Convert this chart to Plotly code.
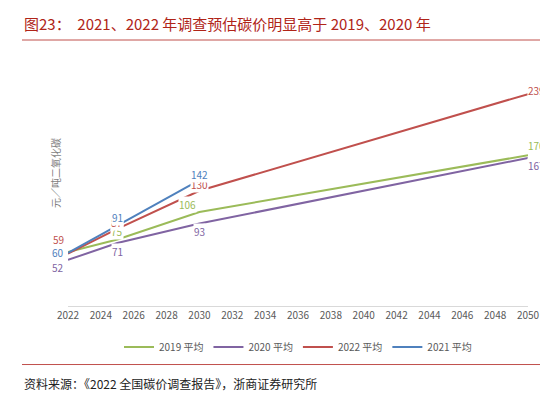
import plotly.graph_objects as go

years = [2022, 2025, 2030, 2050]
series_names = ["2019 平均", "2020 平均", "2022 平均", "2021 平均"]
v2019 = [61, 75, 106, 170]
v2020 = [52, 71, 93, 167]
v2022 = [59, 87, 130, 239]
v2021 = [60, 91, 142]
colors = ["#9bbb59", "#8064a2", "#c0504d", "#4f81bd"]
x_ticks = list(range(2022, 2051, 2))

fig = go.Figure()
all_vals = [v2019, v2020, v2022, v2021]
for name, vals, c in zip(series_names, all_vals, colors):
    fig.add_trace(go.Scatter(x=years[:len(vals)], y=vals, name=name, mode="lines",
                             line=dict(color=c, width=2)))

# label offsets (x shift px, y shift px) per point
offsets = {
    0: [(-10, 6), (0, 8), (-12, 8), (0, 10)],
    1: [(-10, -8), (0, -8), (0, -8), (0, -8)],
    2: [(-10, 14), (0, 6), (0, 6), (0, 4)],
    3: [(-10, 0), (0, 8), (0, 6), (0, 12)],
}
for si, (vals, c) in enumerate(zip(all_vals, colors)):
    for pi, v in enumerate(vals):
        dx, dy = offsets[si][pi]
        if pi == 3:
            dx = 8
        fig.add_annotation(x=years[pi], y=v, text=str(v), showarrow=False,
                           xshift=dx, yshift=dy, bgcolor="white", borderpad=0,
                           font=dict(color=c, size=10, family="Noto Sans CJK SC"))

fig.update_layout(
    width=548, height=402, paper_bgcolor="white", plot_bgcolor="white",
    margin=dict(l=60, r=28, t=32, b=104),
    font=dict(family="Noto Sans CJK SC", color="#595959", size=10),
    showlegend=True,
    legend=dict(orientation="h", x=0.5, xanchor="center", y=-0.1, yanchor="top",
                font=dict(size=10), itemwidth=30),
    xaxis=dict(range=[2022, 2050], tickvals=x_ticks, showgrid=False,
               showline=True, linecolor="#d9d9d9", ticks="", tickfont=dict(size=10)),
    yaxis=dict(range=[0, 300], showticklabels=False, showgrid=False, zeroline=False,
               title=dict(text="元／吨二氧化碳", font=dict(size=10, color="#7f7f7f"), standoff=4)),
)
fig.add_annotation(xref="paper", yref="paper", x=-0.1, y=1.0, yshift=4, xanchor="left",
                   yanchor="bottom", showarrow=False,
                   text="图23：  2021、2022 年调查预估碳价明显高于 2019、2020 年",
                   font=dict(size=15, color="#b02418", family="Noto Sans CJK SC"))
fig.add_shape(type="line", xref="paper", yref="paper", x0=-0.1, x1=1.03, y0=1.0, y1=1.0,
              line=dict(color="#c0504d", width=1))
fig.add_shape(type="line", xref="paper", yref="paper", x0=-0.1, x1=1.03, y0=-0.22, y1=-0.22,
              line=dict(color="#c0504d", width=1))
fig.add_annotation(xref="paper", yref="paper", x=-0.1, y=-0.25, xanchor="left", yanchor="top",
                   showarrow=False, text="资料来源：《2022 全国碳价调查报告》，浙商证券研究所",
                   font=dict(size=12, color="#222222"))
fig.write_html("out.html")
